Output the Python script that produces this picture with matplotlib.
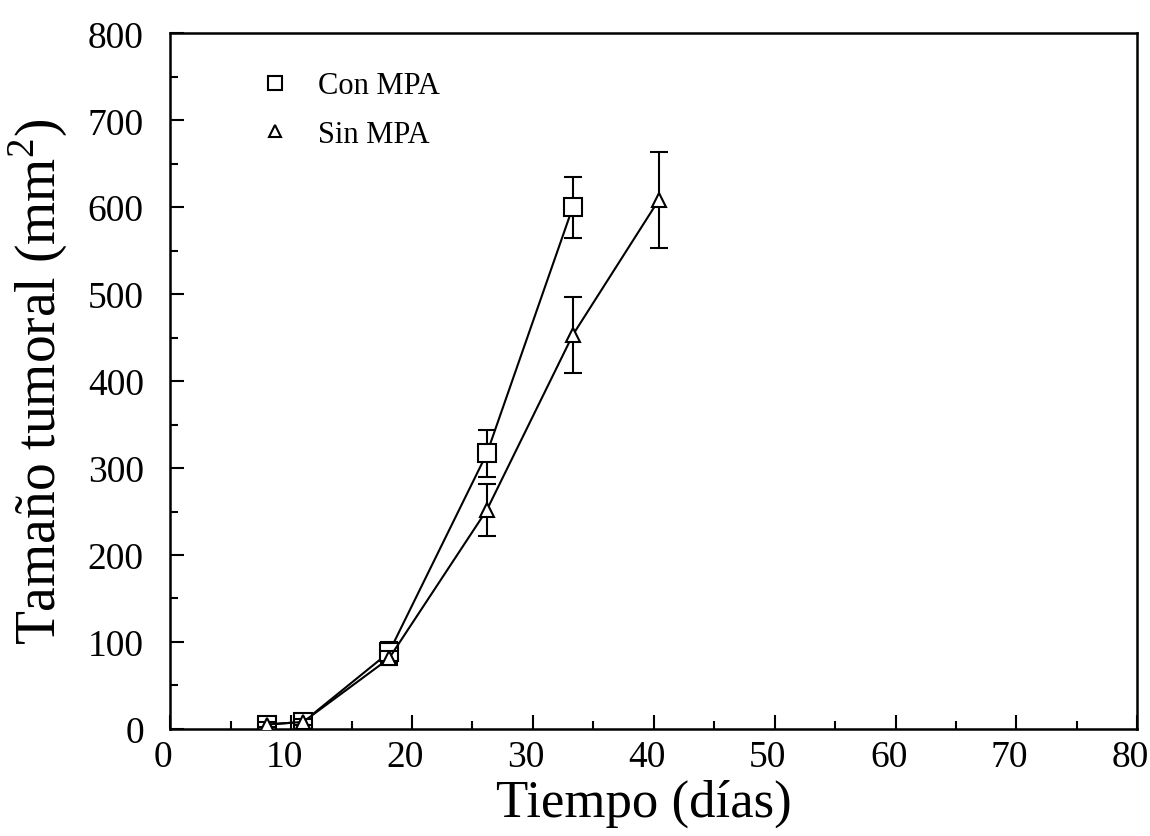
# Tamaño tumoral con y sin MPA
import matplotlib
matplotlib.use('Agg')
import matplotlib.pyplot as plt
import matplotlib.transforms as mtransforms
from matplotlib.ticker import MultipleLocator

plt.rcParams['font.family'] = ['Liberation Serif', 'DejaVu Serif']
plt.rcParams['mathtext.fontset'] = 'custom'
plt.rcParams['mathtext.rm'] = 'Liberation Serif'

# Datos
diasCon = [8.0, 11.0, 18.1, 26.2, 33.3]
tamCon = [5, 8, 88, 317, 600]
errCon = [4, 4, 12, 27, 35]

diasSin = [8.0, 11.0, 18.1, 26.2, 33.3, 40.4]
tamSin = [5, 8, 81, 252, 453, 608]
errSin = [3, 3, 8, 30, 44, 55]

fig = plt.figure(figsize=(11.5, 8.37), dpi=100)
ax = fig.add_axes([0.148, 0.128, 0.841, 0.831])

ax.errorbar(diasCon, tamCon, yerr=errCon, fmt='s-', color='black',
            mfc='white', mec='black', ms=13, mew=1.5, lw=1.5,
            elinewidth=1.5, capsize=6.5, capthick=1.5, label='Con MPA', zorder=2)
# triangulos encima, se ven dentro de los cuadrados
ax.errorbar(diasSin, tamSin, yerr=errSin, fmt='^-', color='black',
            mfc='white', mec='black', ms=10.5, mew=1.5, lw=1.5,
            elinewidth=1.5, capsize=6.5, capthick=1.5, label='Sin MPA', zorder=3)

ax.set_xlim(0, 80)
ax.set_ylim(0, 800)
ax.xaxis.set_major_locator(MultipleLocator(10))
ax.xaxis.set_minor_locator(MultipleLocator(5))
ax.yaxis.set_major_locator(MultipleLocator(100))
ax.yaxis.set_minor_locator(MultipleLocator(50))
ax.tick_params(which='both', direction='in', labelsize=27, width=1.5)
ax.tick_params(which='major', length=10)
ax.tick_params(axis='x', which='major', pad=8)
ax.tick_params(axis='y', which='major', pad=19)
ax.tick_params(which='minor', length=6)
for s in ax.spines.values():
    s.set_linewidth(1.8)

# las etiquetas del eje x estan algo corridas a la izquierda
desplazar = mtransforms.ScaledTranslation(-7 / 100, 0, fig.dpi_scale_trans)
for lab in ax.get_xticklabels():
    lab.set_transform(lab.get_transform() + desplazar)

ax.set_xlabel('Tiempo (días)', fontsize=38)
ax.xaxis.set_label_coords(0.49, -0.072)
ax.set_ylabel('Tamaño tumoral (mm$^2$)', fontsize=40)
ax.yaxis.set_label_coords(-0.104, 0.5)

# leyenda sin barras de error
handles, labels = ax.get_legend_handles_labels()
handles = [h[0] for h in handles]
leg = ax.legend(handles, labels, loc='upper left', bbox_to_anchor=(0.08, 0.985),
                frameon=False, fontsize=22, handlelength=0, handletextpad=1.4,
                labelspacing=0.64, markerscale=0.8)

fig.savefig('out.png', dpi=100)
